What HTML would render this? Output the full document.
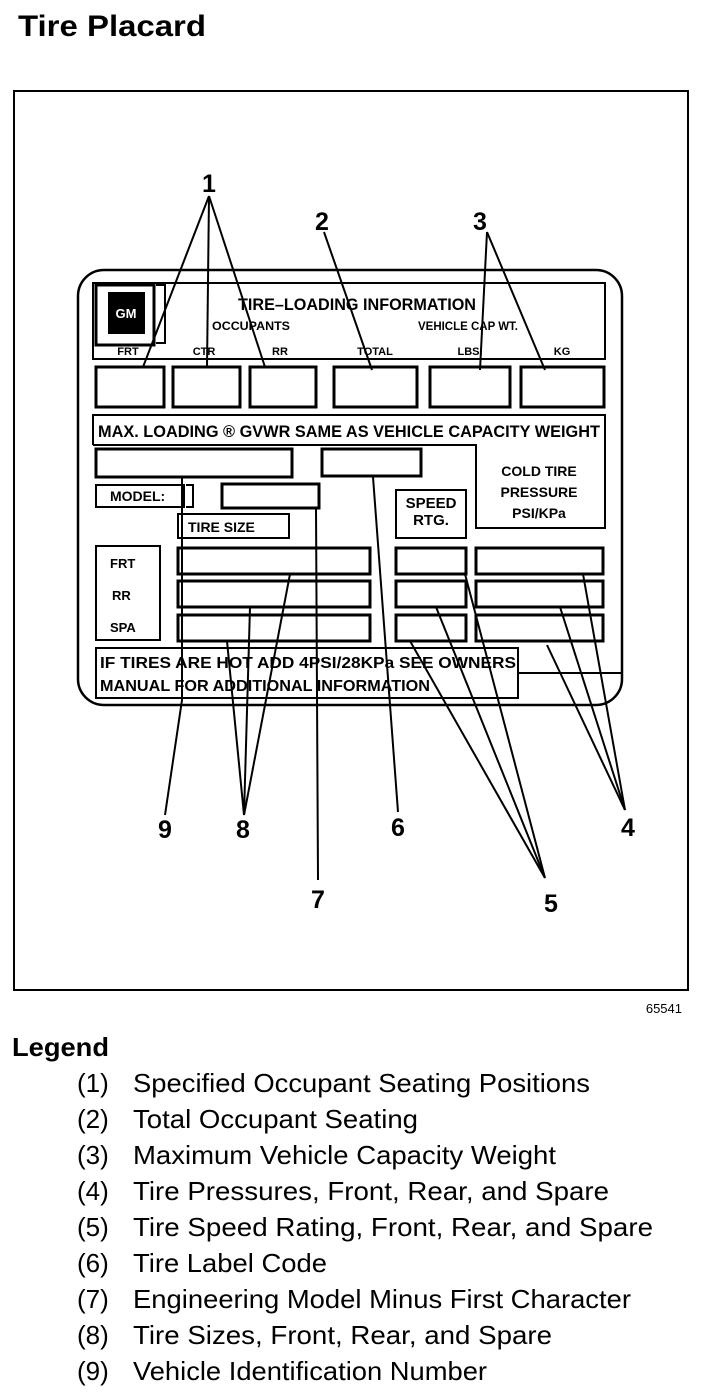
<!DOCTYPE html>
<html><head><style>body{margin:0;background:#fff}svg{display:block}</style></head><body>
<svg width="704" height="1394" viewBox="0 0 704 1394" xmlns="http://www.w3.org/2000/svg" font-family="Liberation Sans, sans-serif">
<text x="18" y="36" font-size="30" font-weight="bold" textLength="188" lengthAdjust="spacingAndGlyphs">Tire Placard</text>
<rect x="14" y="91" width="674" height="899" fill="none" stroke="#000" stroke-width="2"/>
<g fill="none" stroke="#000" stroke-width="2.5">
<rect x="78" y="270" width="544" height="435" rx="26"/>
<rect x="93" y="283" width="512" height="76" stroke-width="2"/>
<rect x="96" y="285" width="58" height="60" stroke-width="3"/>
<polyline points="156,285 165,285 165,343 156,343" stroke-width="2"/>
<line x1="93" y1="359" x2="605" y2="359" stroke-width="2"/>
<rect x="96" y="367" width="68" height="40" stroke-width="3"/>
<rect x="173" y="367" width="67" height="40" stroke-width="3"/>
<rect x="250" y="367" width="66" height="40" stroke-width="3"/>
<rect x="334" y="367" width="83" height="40" stroke-width="3"/>
<rect x="430" y="367" width="80" height="40" stroke-width="3"/>
<rect x="521" y="367" width="83" height="40" stroke-width="3"/>
<polyline points="93,445 93,415 605,415 605,528 476,528 476,445 93,445" stroke-width="2"/>
<rect x="96" y="449" width="196" height="28" stroke-width="3"/>
<rect x="322" y="449" width="99" height="27" stroke-width="3"/>
<rect x="96" y="485" width="88" height="22" stroke-width="2"/>
<polyline points="186,485 193,485 193,507 186,507" stroke-width="2"/>
<rect x="222" y="484" width="97" height="24" stroke-width="3"/>
<rect x="178" y="514" width="111" height="24" stroke-width="2"/>
<rect x="396" y="490" width="70" height="48" stroke-width="2"/>
<rect x="96" y="546" width="64" height="94" stroke-width="2"/>
<rect x="178" y="548" width="192" height="26" stroke-width="3"/>
<rect x="178" y="581" width="192" height="26" stroke-width="3"/>
<rect x="178" y="615" width="192" height="26" stroke-width="3"/>
<rect x="396" y="548" width="70" height="26" stroke-width="3"/>
<rect x="396" y="581" width="70" height="26" stroke-width="3"/>
<rect x="396" y="615" width="70" height="26" stroke-width="3"/>
<rect x="476" y="548" width="127" height="26" stroke-width="3"/>
<rect x="476" y="581" width="127" height="26" stroke-width="3"/>
<rect x="476" y="615" width="127" height="26" stroke-width="3"/>
<rect x="96" y="648" width="422" height="50" stroke-width="2"/>
<line x1="518" y1="673" x2="622" y2="673" stroke-width="2"/>
</g>
<rect x="108" y="292" width="37" height="42" fill="#000"/>
<text x="126" y="318" font-size="13" font-weight="bold" fill="#fff" text-anchor="middle">GM</text>
<g font-size="13" font-weight="bold" fill="#000">
<text x="238" y="310" font-size="17" textLength="238" lengthAdjust="spacingAndGlyphs">TIRE–LOADING INFORMATION</text>
<text x="212" y="330" font-size="12" textLength="78" lengthAdjust="spacingAndGlyphs">OCCUPANTS</text>
<text x="418" y="330" font-size="12" textLength="100" lengthAdjust="spacingAndGlyphs">VEHICLE CAP WT.</text>
<g font-size="11" text-anchor="middle">
<text x="128" y="355">FRT</text><text x="204" y="355">CTR</text><text x="280" y="355">RR</text>
<text x="375" y="355">TOTAL</text><text x="470" y="355">LBS.</text><text x="562" y="355">KG</text></g>
<text x="98" y="437" font-size="17" textLength="502" lengthAdjust="spacingAndGlyphs">MAX. LOADING ® GVWR SAME AS VEHICLE CAPACITY WEIGHT</text>
<text x="110" y="501" font-size="14">MODEL:</text>
<text x="188" y="532" font-size="14">TIRE SIZE</text>
<text x="431" y="508" font-size="15" text-anchor="middle">SPEED</text><text x="431" y="525" font-size="15" text-anchor="middle">RTG.</text>
<text x="539" y="476" font-size="14" text-anchor="middle">COLD TIRE</text>
<text x="539" y="497" font-size="14" text-anchor="middle">PRESSURE</text>
<text x="539" y="518" font-size="14" text-anchor="middle">PSI/KPa</text>
<text x="110" y="568">FRT</text><text x="112" y="600">RR</text><text x="110" y="632">SPA</text>
<text x="100" y="668" font-size="16" textLength="416" lengthAdjust="spacingAndGlyphs">IF TIRES ARE HOT ADD 4PSI/28KPa SEE OWNERS</text>
<text x="100" y="691" font-size="16" textLength="330" lengthAdjust="spacingAndGlyphs">MANUAL FOR ADDITIONAL INFORMATION</text>
</g>
<g stroke="#000" stroke-width="2" fill="none">
<line x1="209" y1="196" x2="143" y2="367"/><line x1="209" y1="196" x2="207" y2="367"/><line x1="209" y1="196" x2="265" y2="367"/>
<line x1="324" y1="232" x2="372" y2="370"/>
<line x1="487" y1="232" x2="480" y2="370"/><line x1="487" y1="232" x2="545" y2="370"/>
<polyline points="165,815 182,700 182,477"/>
<line x1="244" y1="815" x2="227" y2="641"/><line x1="244" y1="815" x2="250" y2="607"/><line x1="244" y1="815" x2="290" y2="574"/>
<line x1="318" y1="880" x2="316" y2="508"/>
<line x1="398" y1="812" x2="373" y2="477"/>
<line x1="545" y1="878" x2="410" y2="641"/><line x1="545" y1="878" x2="436" y2="607"/><line x1="545" y1="878" x2="465" y2="574"/>
<line x1="625" y1="810" x2="547" y2="645"/><line x1="625" y1="810" x2="560" y2="607"/><line x1="625" y1="810" x2="583" y2="574"/>
</g>
<g font-size="25" font-weight="bold" text-anchor="middle">
<text x="209" y="192">1</text><text x="322" y="230">2</text><text x="480" y="230">3</text>
<text x="165" y="838">9</text><text x="243" y="838">8</text><text x="398" y="836">6</text>
<text x="318" y="908">7</text><text x="551" y="912">5</text><text x="628" y="836">4</text>
</g>
<text x="682" y="1013" font-size="13" text-anchor="end">65541</text>
<text x="12" y="1056" font-size="26" font-weight="bold" textLength="97" lengthAdjust="spacingAndGlyphs">Legend</text>
<g font-size="26">
<text x="77" y="1092">(1)</text><text x="133" y="1092" textLength="457" lengthAdjust="spacingAndGlyphs">Specified Occupant Seating Positions</text>
<text x="77" y="1128">(2)</text><text x="133" y="1128" textLength="285" lengthAdjust="spacingAndGlyphs">Total Occupant Seating</text>
<text x="77" y="1164">(3)</text><text x="133" y="1164" textLength="423" lengthAdjust="spacingAndGlyphs">Maximum Vehicle Capacity Weight</text>
<text x="77" y="1200">(4)</text><text x="133" y="1200" textLength="476" lengthAdjust="spacingAndGlyphs">Tire Pressures, Front, Rear, and Spare</text>
<text x="77" y="1236">(5)</text><text x="133" y="1236" textLength="520" lengthAdjust="spacingAndGlyphs">Tire Speed Rating, Front, Rear, and Spare</text>
<text x="77" y="1272">(6)</text><text x="133" y="1272" textLength="194" lengthAdjust="spacingAndGlyphs">Tire Label Code</text>
<text x="77" y="1308">(7)</text><text x="133" y="1308" textLength="498" lengthAdjust="spacingAndGlyphs">Engineering Model Minus First Character</text>
<text x="77" y="1344">(8)</text><text x="133" y="1344" textLength="419" lengthAdjust="spacingAndGlyphs">Tire Sizes, Front, Rear, and Spare</text>
<text x="77" y="1380">(9)</text><text x="133" y="1380" textLength="354" lengthAdjust="spacingAndGlyphs">Vehicle Identification Number</text>
</g>
</svg>
</body></html>
